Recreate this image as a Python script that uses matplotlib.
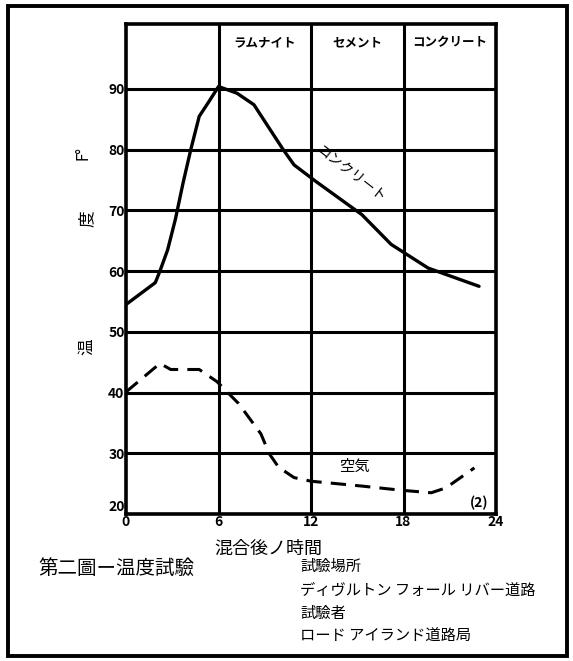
import matplotlib.pyplot as plt
from matplotlib.patches import Rectangle
from matplotlib.transforms import blended_transform_factory

plt.rcParams['font.family'] = ['Noto Sans CJK JP', 'DejaVu Sans']

# concrete (solid) temperature, hours after mixing
conc_h = [0, 1.9, 2.2, 2.7, 3.2, 3.7, 4.2, 4.75, 5.4, 6, 7.2, 8.3, 9.3, 10.2, 10.9, 12.3, 15.3, 17.2, 19.6, 22.9]
conc_t = [54.5, 58.1, 60, 63.5, 68.5, 74.5, 80, 85.5, 88, 90.4, 89.3, 87.4, 83.5, 80, 77.5, 74.8, 69.3, 64.4, 60.5, 57.5]

# air (dashed)
air_h = [0, 2.2, 2.9, 4.75, 5.9, 7.3, 8.75, 9.3, 9.9, 10.9, 12, 15.3, 17.9, 19.8, 20.75, 22.6]
air_t = [40.1, 44.8, 43.8, 43.8, 41.8, 38.2, 33.2, 29.9, 27.7, 26, 25.4, 24.6, 23.9, 23.5, 24.3, 27.6]

x_ticks = [0, 6, 12, 18, 24]
y_ticks = [20, 30, 40, 50, 60, 70, 80, 90]
columns = ['ラムナイト', 'セメント', 'コンクリート']
col_centers = [9, 15, 21]

fig = plt.figure(figsize=(5.73, 6.61), dpi=100)
ax = fig.add_axes([126 / 573, 1 - 514 / 661, 370 / 573, 490 / 661])

ax.set_xlim(0, 24)
ax.set_ylim(20, 100.7)

for y in y_ticks[1:]:
    ax.axhline(y, color='black', lw=2.2)
for x in x_ticks[1:-1]:
    ax.axvline(x, color='black', lw=2.2)
for s in ax.spines.values():
    s.set_linewidth(2.6)

ax.plot(conc_h, conc_t, color='black', lw=2.4, solid_capstyle='round', solid_joinstyle='round')
ax.plot(air_h, air_t, color='black', lw=2.2, dashes=(5, 3))

ax.set_xticks(x_ticks)
ax.set_yticks(y_ticks)
ax.tick_params(length=0, labelsize=10, pad=1)
for lab in ax.get_xticklabels() + ax.get_yticklabels():
    lab.set_fontweight('bold')
    lab.set_fontstyle('italic')
ax.get_yticklabels()[0].set_va('bottom')

for name, xc in zip(columns, col_centers):
    ax.text(xc, 97.6, name, ha='center', va='center', fontsize=9, fontweight='bold')

ax.text(14.6, 76.0, 'コンクリート', rotation=-38, ha='center', va='center', fontsize=10)
ax.text(14.8, 27.8, '空気', ha='center', va='center', fontsize=11)
ax.text(22.9, 21.8, '(2)', ha='center', va='center', fontsize=10, fontweight='bold', fontstyle='italic')

# y-axis label pieces
tr = blended_transform_factory(ax.transAxes, ax.transData)
ax.text(-0.115, 79.5, 'F°', transform=tr, rotation=90, ha='center', va='center', fontsize=11)
ax.text(-0.105, 68.7, '度', transform=tr, rotation=90, ha='center', va='center', fontsize=12)
ax.text(-0.105, 47.5, '温', transform=tr, rotation=90, ha='center', va='center', fontsize=12)

# x-axis label
ax.text(9.2, -0.072, '混合後ノ時間', transform=blended_transform_factory(ax.transData, ax.transAxes),
        ha='center', va='center', fontsize=13)

# caption block
fig.text(38 / 573, 1 - 568 / 661, '第二圖ー温度試驗', fontsize=14, va='center')
fig.text(300 / 573, 1 - 566 / 661, '試驗場所', fontsize=11, va='center')
fig.text(300 / 573, 1 - 590 / 661, 'ディヴルトン フォール リバー道路', fontsize=11, va='center')
fig.text(300 / 573, 1 - 613 / 661, '試驗者', fontsize=11, va='center')
fig.text(300 / 573, 1 - 636 / 661, 'ロード アイランド道路局', fontsize=11, va='center')

# outer frame
fig.patches.append(Rectangle((8 / 573, 5 / 661), 559 / 573, 650 / 661, transform=fig.transFigure,
                             fill=False, lw=2.8, edgecolor='black'))

fig.savefig('out.png', dpi=100)
